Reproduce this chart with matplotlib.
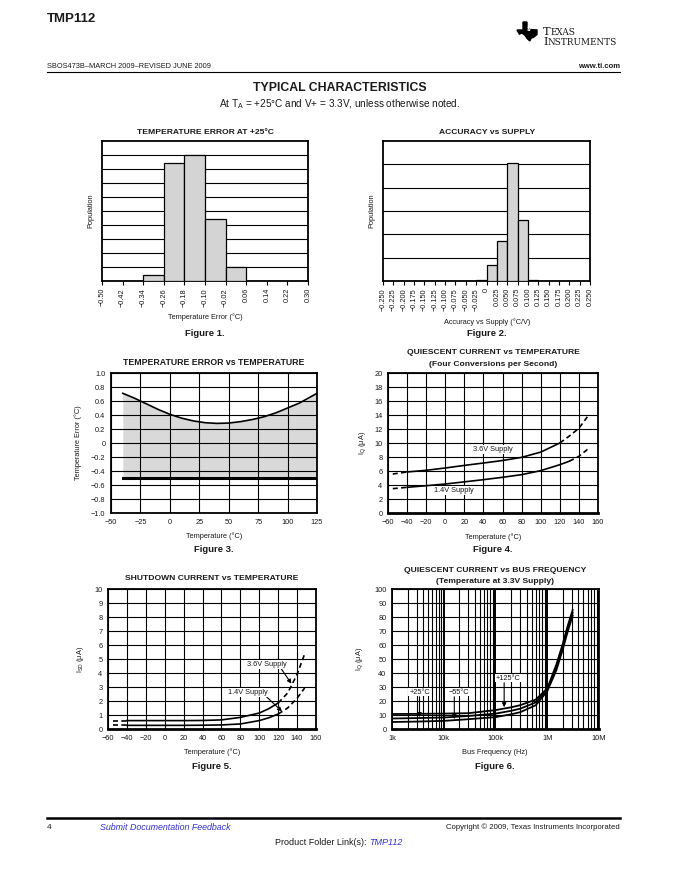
import matplotlib
matplotlib.use('Agg')
import matplotlib.pyplot as plt
import numpy as np
from matplotlib.patches import Polygon
from matplotlib.lines import Line2D
from matplotlib.ticker import LogLocator, NullFormatter

plt.rcParams['font.family'] = ['Liberation Sans', 'DejaVu Sans']

# ---------------- data ----------------
# Figure 1: temperature error at +25C (histogram)
f1_ticks = [-0.50, -0.42, -0.34, -0.26, -0.18, -0.10, -0.02, 0.06, 0.14, 0.22, 0.30]
f1_bin_left = [-0.34, -0.26, -0.18, -0.10, -0.02]
f1_bin_width = 0.08
f1_pop = [0.45, 8.45, 9.02, 4.45, 1.02]

# Figure 2: accuracy vs supply (histogram)
f2_ticks = [-0.250, -0.225, -0.200, -0.175, -0.150, -0.125, -0.100, -0.075, -0.050, -0.025,
            0.0, 0.025, 0.050, 0.075, 0.100, 0.125, 0.150, 0.175, 0.200, 0.225, 0.250]
f2_tick_labels = ['-0.250', '-0.225', '-0.200', '-0.175', '-0.150', '-0.125', '-0.100', '-0.075',
                  '-0.050', '-0.025', '0', '0.025', '0.050', '0.075', '0.100', '0.125', '0.150',
                  '0.175', '0.200', '0.225', '0.250']
f2_bin_left = [-0.025, 0.0, 0.025, 0.050, 0.075, 0.100]
f2_bin_width = 0.025
f2_pop = [0.06, 0.67, 1.70, 5.07, 2.60, 0.04]

# Figure 3: temperature error vs temperature
f3_temp = [-40, -30, -20, -10, 0, 10, 20, 30, 40, 50, 60, 70, 80, 90, 100, 110, 125]
f3_max_err = [0.71, 0.64, 0.56, 0.48, 0.41, 0.355, 0.315, 0.29, 0.28, 0.285, 0.305, 0.335,
              0.375, 0.43, 0.50, 0.57, 0.71]
f3_min_err = -0.50
f3_xticks = [-50, -25, 0, 25, 50, 75, 100, 125]
f3_yticks = [-1.0, -0.8, -0.6, -0.4, -0.2, 0.0, 0.2, 0.4, 0.6, 0.8, 1.0]

# Figure 4: quiescent current vs temperature
f4_temp = [-55, -40, -20, 0, 20, 40, 60, 80, 100, 120, 130, 140, 150]
f4_iq_36 = [5.57, 5.86, 6.10, 6.43, 6.80, 7.14, 7.50, 7.95, 8.70, 10.0, 11.0, 12.1, 13.95]
f4_iq_14 = [3.48, 3.67, 3.90, 4.14, 4.45, 4.76, 5.10, 5.48, 6.05, 6.90, 7.40, 8.10, 9.20]
f4_solid_36 = (-40, 120)
f4_solid_14 = (-40, 130)

# Figure 5: shutdown current vs temperature
f5_temp = [-55, -40, -20, 0, 20, 40, 60, 80, 100, 110, 120, 130, 140, 148]
f5_isd_36 = [0.60, 0.60, 0.60, 0.60, 0.60, 0.61, 0.65, 0.83, 1.14, 1.45, 1.86, 2.57, 3.90, 5.36]
f5_isd_14 = [0.26, 0.26, 0.26, 0.26, 0.26, 0.27, 0.29, 0.36, 0.60, 0.80, 1.07, 1.50, 2.20, 2.93]
f5_solid = (-40, 120)
temp_ticks = [-60, -40, -20, 0, 20, 40, 60, 80, 100, 120, 140, 160]

# Figure 6: quiescent current vs bus frequency
f6_freq = [1e3, 3e3, 1e4, 3e4, 1e5, 2e5, 3e5, 6e5, 1e6, 1.5e6, 2e6, 2.5e6, 3.1e6]
f6_iq_125 = [10.7, 10.8, 11.0, 11.3, 13.5, 15.5, 17.0, 21.0, 29.0, 46.0, 61.0, 74.0, 85.0]
f6_iq_25 = [7.5, 7.8, 8.2, 9.3, 11.0, 13.0, 14.5, 19.0, 28.0, 44.0, 59.0, 72.0, 83.0]
f6_iq_m55 = [5.0, 5.3, 5.8, 7.0, 8.5, 10.5, 12.0, 17.0, 27.0, 42.0, 57.0, 70.0, 81.0]
f6_xticks = [1e3, 1e4, 1e5, 1e6, 1e7]
f6_xticklabels = ['1k', '10k', '100k', '1M', '10M']

# ---------------- layout helpers ----------------
W, H = 680, 880
fig = plt.figure(figsize=(6.8, 8.8), dpi=100)
fig.patch.set_facecolor('white')

TXT = '#1a1a1a'
BLUE = '#3333cc'
FILL = '#d4d4d4'


def fx(x):
    return x / W


def fy(y):
    return 1 - y / H


def add_ax(x0, y0, x1, y1, **kw):
    return fig.add_axes([fx(x0), fy(y1), (x1 - x0) / W, (y1 - y0) / H], **kw)


def t(x, y, s, **kw):
    kw.setdefault('color', TXT)
    kw.setdefault('ha', 'center')
    kw.setdefault('va', 'center')
    return fig.text(fx(x), fy(y), s, **kw)


def mlab(v, fmt):
    s = fmt.format(v)
    if float(s) == 0:
        return '0'
    return s.replace('-', '\u2212')


def frame(ax, lw=1.3):
    for sp in ax.spines.values():
        sp.set_linewidth(lw)
        sp.set_color('black')


TS = 6.1      # title size
LS = 5.3      # label size
KS = 5.3      # tick size
FS = 6.8      # "Figure N." size

# ---------------- header ----------------
t(47, 19, 'TMP112', ha='left', fontsize=9.5, fontweight='bold',
  family=['Liberation Sans Narrow', 'Liberation Sans', 'DejaVu Sans'])
t(47, 67, 'SBOS473B\u2013MARCH 2009\u2013REVISED JUNE 2009', ha='left', fontsize=5.3)
t(620, 67, 'www.ti.com', ha='right', fontsize=5.5, fontweight='bold')
fig.add_artist(Line2D([fx(47), fx(620)], [fy(72), fy(72)], color='black', lw=0.8))
t(340, 88, 'TYPICAL CHARACTERISTICS', fontsize=8.8, fontweight='bold')
t(340, 104, 'At T$_\\mathregular{A}$ = +25\u00b0C and V+ = 3.3V, unless otherwise noted.',
  fontsize=7.2)

# TI logo (simplified)
lx0, ly0, lw_, lh_ = 517, 22, 20, 19
shape = [(0.30, 0.0), (0.50, 0.0), (0.50, 0.32), (0.72, 0.40), (1.0, 0.42), (1.0, 0.66),
         (0.86, 0.78), (0.70, 0.86), (0.64, 1.0), (0.50, 0.86), (0.40, 0.70), (0.25, 0.58),
         (0.12, 0.64), (0.0, 0.42), (0.30, 0.42)]
poly = Polygon([(fx(lx0 + px * lw_), fy(ly0 + py * lh_)) for px, py in shape],
               closed=True, transform=fig.transFigure, facecolor='black', edgecolor='black')
fig.add_artist(poly)
t(lx0 + 12.5, ly0 + 7.5, 'ti', fontsize=6, fontweight='bold', color='white', style='italic')
serif = ['DejaVu Serif', 'Liberation Serif']
tT = t(543, 34.8, 'T', ha='left', va='baseline', fontsize=8.2, family=serif)
tI = t(543, 44.8, 'I', ha='left', va='baseline', fontsize=8.2, family=serif)
fig.canvas.draw()
r = fig.canvas.get_renderer()
bT = tT.get_window_extent(r)
bI = tI.get_window_extent(r)
fig.text(bT.x1 / fig.bbox.width, fy(34.8), 'EXAS', ha='left', va='baseline', fontsize=6.4,
         family=serif, color=TXT)
fig.text(bI.x1 / fig.bbox.width, fy(44.8), 'NSTRUMENTS', ha='left', va='baseline', fontsize=6.4,
         family=serif, color=TXT)

# ---------------- Figure 1 ----------------
ax1 = add_ax(102, 141, 308, 281)
ax1.bar(f1_bin_left, f1_pop, width=f1_bin_width, align='edge', color=FILL,
        edgecolor='black', linewidth=0.9, zorder=3)
ax1.set_xlim(-0.50, 0.30)
ax1.set_ylim(0, 10)
ax1.set_yticks(range(1, 10))
ax1.yaxis.grid(True, color='black', lw=0.8)
ax1.tick_params(axis='y', left=False, labelleft=False)
ax1.set_xticks(f1_ticks)
ax1.set_xticklabels([mlab(v, '{:.2f}') for v in f1_ticks], rotation=90, fontsize=KS, color=TXT)
ax1.tick_params(axis='x', direction='out', length=3, width=0.8, pad=2)
frame(ax1)
t(205, 132, 'TEMPERATURE ERROR AT +25\u00b0C', fontsize=TS, fontweight='bold')
t(91, 211, 'Population', rotation=90, fontsize=LS)
t(205, 317, 'Temperature Error (\u00b0C)', fontsize=LS)
t(205, 333, 'Figure 1.', fontsize=FS, fontweight='bold')

# ---------------- Figure 2 ----------------
ax2 = add_ax(383, 141, 590, 281)
ax2.bar(f2_bin_left, f2_pop, width=f2_bin_width, align='edge', color=FILL,
        edgecolor='black', linewidth=0.9, zorder=3)
ax2.set_xlim(-0.25, 0.25)
ax2.set_ylim(0, 6)
ax2.set_yticks(range(1, 6))
ax2.yaxis.grid(True, color='black', lw=0.8)
ax2.tick_params(axis='y', left=False, labelleft=False)
ax2.set_xticks(f2_ticks)
ax2.set_xticklabels([s.replace('-', '\u2212') for s in f2_tick_labels], rotation=90,
                    fontsize=KS, color=TXT)
ax2.tick_params(axis='x', direction='out', length=3, width=0.8, pad=2)
frame(ax2)
t(487, 132, 'ACCURACY vs SUPPLY', fontsize=TS, fontweight='bold')
t(372, 211, 'Population', rotation=90, fontsize=LS)
t(487, 322, 'Accuracy vs Supply (\u00b0C/V)', fontsize=LS)
t(487, 333, 'Figure 2.', fontsize=FS, fontweight='bold')

# ---------------- Figure 3 ----------------
ax3 = add_ax(111, 373, 317, 513)
ax3.fill_between(f3_temp, f3_min_err, f3_max_err, color='#d9d9d9', lw=0, zorder=1)
ax3.plot(f3_temp, f3_max_err, color='black', lw=1.2, zorder=4)
ax3.plot([f3_temp[0], f3_temp[-1]], [f3_min_err, f3_min_err], color='black', lw=2.2, zorder=4)
ax3.set_xlim(-50, 125)
ax3.set_ylim(-1.0, 1.0)
ax3.set_xticks(f3_xticks)
ax3.set_xticklabels([mlab(v, '{:.0f}') for v in f3_xticks], fontsize=KS, color=TXT)
ax3.set_yticks(f3_yticks)
ax3.set_yticklabels([mlab(v, '{:.1f}') for v in f3_yticks], fontsize=KS, color=TXT)
ax3.grid(True, color='black', lw=0.8, zorder=2)
ax3.set_axisbelow(False)
ax3.tick_params(length=0, pad=4)
frame(ax3)
t(214, 362, 'TEMPERATURE ERROR vs TEMPERATURE', fontsize=6.3, fontweight='bold')
t(78, 443, 'Temperature Error (\u00b0C)', rotation=90, fontsize=LS)
t(214, 536, 'Temperature (\u00b0C)', fontsize=LS)
t(214, 550, 'Figure 3.', fontsize=FS, fontweight='bold')


def seg_plot(ax, x, y, lo, hi, lw=1.2):
    x = np.asarray(x, float)
    y = np.asarray(y, float)
    m1 = x <= lo
    m2 = (x >= lo) & (x <= hi)
    m3 = x >= hi
    ax.plot(x[m1], y[m1], color='black', lw=lw, ls=(0, (3, 2)), zorder=4)
    ax.plot(x[m2], y[m2], color='black', lw=lw, zorder=4)
    ax.plot(x[m3], y[m3], color='black', lw=lw, ls=(0, (3, 2)), zorder=4)


# ---------------- Figure 4 ----------------
ax4 = add_ax(388, 373, 598, 513)
seg_plot(ax4, f4_temp, f4_iq_36, *f4_solid_36)
seg_plot(ax4, f4_temp, f4_iq_14, *f4_solid_14)
ax4.set_xlim(-60, 160)
ax4.set_ylim(0, 20)
ax4.set_xticks(temp_ticks)
ax4.set_xticklabels([mlab(v, '{:.0f}') for v in temp_ticks], fontsize=KS, color=TXT)
ax4.set_yticks(range(0, 21, 2))
ax4.set_yticklabels([str(v) for v in range(0, 21, 2)], fontsize=KS, color=TXT)
ax4.grid(True, color='black', lw=0.8)
ax4.tick_params(length=0, pad=4)
frame(ax4)
ax4.spines['bottom'].set_linewidth(2.0)
ax4.text(50, 9.1, '3.6V Supply', fontsize=LS, ha='center', va='center', color=TXT,
         bbox=dict(facecolor='white', edgecolor='none', pad=0.6), zorder=5)
ax4.text(9, 3.2, '1.4V Supply', fontsize=LS, ha='center', va='center', color=TXT,
         bbox=dict(facecolor='white', edgecolor='none', pad=0.6), zorder=5)
t(493, 353, 'QUIESCENT CURRENT vs TEMPERATURE', fontsize=TS, fontweight='bold')
t(493, 364, '(Four Conversions per Second)', fontsize=TS, fontweight='bold')
t(363, 443, 'I$_\\mathregular{Q}$ (\u03bcA)', rotation=90, fontsize=LS)
t(493, 537, 'Temperature (\u00b0C)', fontsize=LS)
t(493, 550, 'Figure 4.', fontsize=FS, fontweight='bold')

# ---------------- Figure 5 ----------------
ax5 = add_ax(108, 589, 316, 729)
seg_plot(ax5, f5_temp, f5_isd_36, *f5_solid)
seg_plot(ax5, f5_temp, f5_isd_14, *f5_solid)
ax5.set_xlim(-60, 160)
ax5.set_ylim(0, 10)
ax5.set_xticks(temp_ticks)
ax5.set_xticklabels([mlab(v, '{:.0f}') for v in temp_ticks], fontsize=KS, color=TXT)
ax5.set_yticks(range(0, 11))
ax5.set_yticklabels([str(v) for v in range(0, 11)], fontsize=KS, color=TXT)
ax5.grid(True, color='black', lw=0.8)
ax5.tick_params(length=0, pad=4)
frame(ax5)
ax5.spines['bottom'].set_linewidth(2.0)
ax5.annotate('3.6V Supply', xy=(134, 3.24), xytext=(108, 4.6), fontsize=LS, ha='center',
             va='center', color=TXT, zorder=5,
             bbox=dict(facecolor='white', edgecolor='none', pad=0.6),
             arrowprops=dict(arrowstyle='-|>', color='black', lw=0.8, mutation_scale=6,
                             shrinkA=0, shrinkB=0, relpos=(0.85, 0.0)))
ax5.annotate('1.4V Supply', xy=(124, 1.26), xytext=(88, 2.6), fontsize=LS, ha='center',
             va='center', color=TXT, zorder=5,
             bbox=dict(facecolor='white', edgecolor='none', pad=0.6),
             arrowprops=dict(arrowstyle='-|>', color='black', lw=0.8, mutation_scale=6,
                             shrinkA=0, shrinkB=0, relpos=(0.95, 0.0)))
t(212, 578, 'SHUTDOWN CURRENT vs TEMPERATURE', fontsize=TS, fontweight='bold')
t(80, 659, 'I$_\\mathregular{SD}$ (\u03bcA)', rotation=90, fontsize=LS)
t(212, 752, 'Temperature (\u00b0C)', fontsize=LS)
t(212, 766, 'Figure 5.', fontsize=FS, fontweight='bold')

# ---------------- Figure 6 ----------------
ax6 = add_ax(392, 589, 599, 729)
for series in (f6_iq_125, f6_iq_25, f6_iq_m55):
    ax6.plot(f6_freq, series, color='black', lw=1.3, zorder=4)
ax6.set_xscale('log')
ax6.set_xlim(1e3, 1e7)
ax6.set_ylim(0, 100)
ax6.set_xticks(f6_xticks)
ax6.set_xticklabels(f6_xticklabels, fontsize=KS, color=TXT)
ax6.xaxis.set_minor_locator(LogLocator(base=10, subs=np.arange(2, 10), numticks=100))
ax6.xaxis.set_minor_formatter(NullFormatter())
ax6.set_yticks(range(0, 101, 10))
ax6.set_yticklabels([str(v) for v in range(0, 101, 10)], fontsize=KS, color=TXT)
ax6.xaxis.grid(True, which='major', color='black', lw=1.4)
ax6.xaxis.grid(True, which='minor', color='black', lw=0.8)
ax6.yaxis.grid(True, color='black', lw=0.8)
ax6.tick_params(which='both', length=0, pad=4)
frame(ax6)
ax6.spines['bottom'].set_linewidth(2.0)
for lab, xt, yt, xa, y0, y1 in (('+25\u00b0C', 3.4e3, 26.4, 3.4e3, 23, 8.5),
                                ('\u221255\u00b0C', 1.96e4, 26.4, 1.6e4, 23, 7.0),
                                ('+125\u00b0C', 1.78e5, 36.4, 1.47e5, 33, 15.5)):
    ax6.text(xt, yt, lab, fontsize=LS, ha='center', va='center', color=TXT, zorder=5,
             bbox=dict(facecolor='white', edgecolor='none', pad=0.6))
    ax6.annotate('', xy=(xa, y1), xytext=(xa, y0),
                 arrowprops=dict(arrowstyle='-|>', color='black', lw=0.8, mutation_scale=6,
                                 shrinkA=0, shrinkB=0), zorder=5)
t(495, 570, 'QUIESCENT CURRENT vs BUS FREQUENCY', fontsize=TS, fontweight='bold')
t(495, 581, '(Temperature at 3.3V Supply)', fontsize=TS, fontweight='bold')
t(360, 659, 'I$_\\mathregular{Q}$ (\u03bcA)', rotation=90, fontsize=LS)
t(495, 752, 'Bus Frequency (Hz)', fontsize=LS)
t(495, 766, 'Figure 6.', fontsize=FS, fontweight='bold')

# ---------------- footer ----------------
fig.add_artist(Line2D([fx(47), fx(620)], [fy(818), fy(818)], color='black', lw=1.8))
t(47, 827, '4', ha='left', fontsize=6)
t(100, 827, 'Submit Documentation Feedback', ha='left', fontsize=6.4, style='italic', color=BLUE)
t(620, 827, 'Copyright \u00a9 2009, Texas Instruments Incorporated', ha='right', fontsize=5.6)
tp = t(275, 842, 'Product Folder Link(s): ', ha='left', fontsize=6.5)
fig.canvas.draw()
bp = tp.get_window_extent(fig.canvas.get_renderer())
fig.text(bp.x1 / fig.bbox.width, fy(842), 'TMP112', ha='left', va='center', fontsize=6.5,
         style='italic', color=BLUE)

fig.savefig('out.png', dpi=100, facecolor='white')
